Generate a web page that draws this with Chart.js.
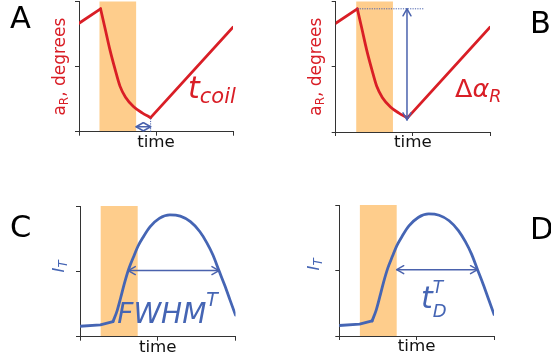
<!DOCTYPE html>
<html>
<head>
<meta charset="utf-8">
<script src="https://cdn.jsdelivr.net/npm/chart.js@4.4.0/dist/chart.umd.min.js"></script>
<style>
  html, body { margin: 0; padding: 0; background: #fff; }
  #wrap { position: relative; width: 551px; height: 362px; }
  #wrap canvas { position: absolute; left: 0; top: 0; }
</style>
</head>
<body>
<div id="wrap">
  <canvas id="panelA" width="551" height="362"></canvas>
  <canvas id="panelB" width="551" height="362"></canvas>
  <canvas id="panelC" width="551" height="362"></canvas>
  <canvas id="panelD" width="551" height="362"></canvas>
</div>
<script>
// rotation angle trace, panels A and B
const timeRot = [0, 0.14, 0.169, 0.201, 0.234, 0.266, 0.302, 0.355, 0.41, 0.465, 1.0];
const alphaR  = [0.833, 0.944, 0.795, 0.628, 0.48, 0.35, 0.265, 0.192, 0.145, 0.108, 0.803];

// transmitted intensity trace, panels C and D
const timeInt = [0, 0.131, 0.212, 0.239, 0.262, 0.286, 0.314, 0.344, 0.372, 0.408, 0.45,
                 0.51, 0.578, 0.645, 0.71, 0.77, 0.815, 0.855, 0.893, 0.93, 0.965, 1.0];
const intensityT = [0.08, 0.09, 0.115, 0.2, 0.3, 0.41, 0.52, 0.61, 0.69, 0.765, 0.84,
                    0.905, 0.932, 0.922, 0.88, 0.805, 0.72, 0.625, 0.508, 0.395, 0.28, 0.165];

// stimulus window (time) and axis range
const stimulus = [0.133, 0.371];
const axisTicks = [0, 0.5, 1];

const W = 551, H = 362;
const RED = '#d91e26', BLUE = '#4565b4', ARROW = '#4a62ad', ORANGE = '#fecd8c', AXIS = '#333';
const font = (size, italic) => (italic ? 'italic ' : '') + size + 'px "DejaVu Sans", sans-serif';

const toPoints = (xs, ys) => xs.map((x, i) => ({ x: x, y: ys[i] }));

// landmarks of the rotation trace
const iPeak = alphaR.indexOf(Math.max(...alphaR));
const iMin = alphaR.indexOf(Math.min(...alphaR));
const tPeak = timeRot[iPeak], alphaPeak = alphaR[iPeak];
const tMin = timeRot[iMin], alphaMin = alphaR[iMin];

// half maximum crossings of the intensity trace
const intMax = Math.max(...intensityT);
const halfLevel = (intMax + intensityT[0]) / 2;
function crossings(xs, ys, level) {
  const out = [];
  for (let i = 1; i < xs.length; i++) {
    const a = ys[i - 1] - level, b = ys[i] - level;
    if (a * b <= 0 && a !== b) out.push(xs[i - 1] + (xs[i] - xs[i - 1]) * a / (a - b));
  }
  return out;
}
const halfCross = crossings(timeInt, intensityT, halfLevel);
// onset: last point of the flat baseline before the rise
const iOnset = 2;

function axisOpts() {
  return {
    type: 'linear', min: axisTicks[0], max: axisTicks[axisTicks.length - 1],
    ticks: { display: false, stepSize: axisTicks[1] - axisTicks[0] },
    grid: { drawOnChartArea: false, drawTicks: true, tickLength: 4, color: AXIS, lineWidth: 1 },
    border: { display: true, color: AXIS, width: 1 },
    afterFit(scale) { if (scale.isHorizontal()) scale.height = 0; else scale.width = 0; }
  };
}

function pix(chart, x, y) {
  return [chart.scales.x.getPixelForValue(x), chart.scales.y.getPixelForValue(y)];
}

function drawRun(ctx, x, y, parts) {
  let cx = x;
  for (const p of parts) {
    ctx.font = p[1];
    ctx.fillText(p[0], cx, y + p[2]);
    if (p[3] !== false) cx += ctx.measureText(p[0]).width;
  }
}

function runWidth(ctx, parts) {
  let w = 0;
  for (const p of parts) { ctx.font = p[1]; if (p[3] !== false) w += ctx.measureText(p[0]).width; }
  return w;
}

function mathText(chart, x, y, color, parts) {
  const ctx = chart.ctx, [px, py] = pix(chart, x, y);
  ctx.save();
  ctx.fillStyle = color; ctx.textBaseline = 'alphabetic'; ctx.textAlign = 'left';
  drawRun(ctx, px, py, parts);
  ctx.restore();
}

function yLabel(chart, dx, dy, color, parts) {
  const ctx = chart.ctx, a = chart.chartArea;
  ctx.save();
  ctx.translate(a.left + dx, (a.top + a.bottom) / 2 + dy);
  ctx.rotate(-Math.PI / 2);
  ctx.fillStyle = color; ctx.textBaseline = 'alphabetic'; ctx.textAlign = 'left';
  drawRun(ctx, -runWidth(ctx, parts) / 2, 0, parts);
  ctx.restore();
}

function timeLabel(chart) {
  const ctx = chart.ctx, a = chart.chartArea;
  ctx.save();
  ctx.fillStyle = '#111'; ctx.font = font(16.7); ctx.textAlign = 'center'; ctx.textBaseline = 'alphabetic';
  ctx.fillText('time', (a.left + a.right) / 2, a.bottom + 15);
  ctx.restore();
}

function panelLetter(chart, letter, x, y) {
  const ctx = chart.ctx;
  ctx.save();
  ctx.fillStyle = '#000'; ctx.font = font(30.5); ctx.textAlign = 'left'; ctx.textBaseline = 'alphabetic';
  ctx.fillText(letter, x, y);
  ctx.restore();
}

function head(ctx, x, y, ang) {
  const L = 7, w = 4, c = Math.cos(ang), s = Math.sin(ang);
  ctx.beginPath();
  ctx.moveTo(x - L * c + w * s, y - L * s - w * c);
  ctx.lineTo(x, y);
  ctx.lineTo(x - L * c - w * s, y - L * s + w * c);
  ctx.stroke();
}

function doubleArrow(chart, x1, y1, x2, y2, trim2) {
  const ctx = chart.ctx;
  const [ax, ay] = pix(chart, x1, y1);
  let [bx, by] = pix(chart, x2, y2);
  by -= (trim2 || 0);
  const ang = Math.atan2(by - ay, bx - ax);
  ctx.save();
  ctx.strokeStyle = ARROW; ctx.lineWidth = 1.5; ctx.lineCap = 'round'; ctx.lineJoin = 'round';
  ctx.beginPath(); ctx.moveTo(ax, ay); ctx.lineTo(bx, by); ctx.stroke();
  head(ctx, bx, by, ang);
  head(ctx, ax, ay, ang + Math.PI);
  ctx.restore();
}

function dotted(chart, x1, y1, x2, y2) {
  const ctx = chart.ctx;
  const [ax, ay] = pix(chart, x1, y1), [bx, by] = pix(chart, x2, y2);
  ctx.save();
  ctx.strokeStyle = ARROW; ctx.lineWidth = 1; ctx.setLineDash([1.2, 1.2]);
  ctx.beginPath(); ctx.moveTo(ax, ay); ctx.lineTo(bx, by); ctx.stroke();
  ctx.restore();
}

function drawBand(chart) {
  const ctx = chart.ctx, a = chart.chartArea;
  const x0 = chart.scales.x.getPixelForValue(stimulus[0]);
  const x1 = chart.scales.x.getPixelForValue(stimulus[1]);
  ctx.save();
  ctx.fillStyle = ORANGE;
  ctx.fillRect(x0, a.top, x1 - x0, a.bottom - a.top);
  ctx.restore();
}

// one trace split into pieces: straight pieces keep their corners, smooth ones are monotone splines
function traceSets(pieces, color) {
  return pieces.map(([pts, smooth]) => ({
    data: pts, borderColor: color, borderWidth: 2.8, pointRadius: 0, fill: false,
    cubicInterpolationMode: smooth ? 'monotone' : 'default', tension: 0,
    borderJoinStyle: 'round', borderCapStyle: 'round'
  }));
}

function makePanel(canvasId, area, datasets, extras) {
  const [l, t, r, b] = area;
  return new Chart(document.getElementById(canvasId), {
    type: 'line',
    data: { datasets: datasets },
    options: {
      responsive: false, animation: false, devicePixelRatio: 1,
      layout: { padding: { left: l, top: t, right: W - r, bottom: H - b } },
      scales: { x: axisOpts(), y: axisOpts() },
      plugins: { legend: { display: false }, tooltip: { enabled: false } },
      events: []
    },
    plugins: [{
      id: 'panelMarks',
      beforeDraw(chart) { drawBand(chart); },
      afterDraw(chart) { extras(chart); }
    }]
  });
}

const rotPoints = toPoints(timeRot, alphaR);
const intPoints = toPoints(timeInt, intensityT);
const rotPieces = [
  [rotPoints.slice(0, iPeak + 1), false],
  [rotPoints.slice(iPeak, iMin + 1), true],
  [rotPoints.slice(iMin), false]
];
const intPieces = [
  [intPoints.slice(0, iOnset + 1), false],
  [intPoints.slice(iOnset), true]
];
const aRLabel = [['a', font(17), 0], ['R', font(12), 3], [', degrees', font(17), 0]];
const iTLabel = [['I', font(16.7, true), 0], ['T', font(11.7, true), 3]];

// A: coil time
makePanel('panelA', [79, 1.5, 233, 131.7], traceSets(rotPieces, RED), chart => {
  dotted(chart, tMin, 0, tMin, alphaMin);
  doubleArrow(chart, stimulus[1], 0.038, tMin, 0.038);
  mathText(chart, 0.708, 0.257, RED, [['t', font(30, true), 0], ['coil', font(21, true), 4.7]]);
  yLabel(chart, -14, 0, RED, aRLabel);
  timeLabel(chart);
  panelLetter(chart, 'A', 10, 28.3);
});

// B: rotation amplitude
makePanel('panelB', [335.7, 1.5, 490, 132], traceSets(rotPieces, RED), chart => {
  dotted(chart, tPeak, alphaPeak, 0.568, alphaPeak);
  doubleArrow(chart, tMin - 0.003, alphaPeak, tMin - 0.003, alphaMin, -2);
  mathText(chart, 0.773, 0.266, RED, [['\u0394', font(25.5), 0], ['\u03b1', font(25.5, true), 0], ['R', font(17.5, true), 4.4]]);
  yLabel(chart, -14.5, 0, RED, aRLabel);
  timeLabel(chart);
  panelLetter(chart, 'B', 530, 33.3);
});

// C: full width at half maximum
makePanel('panelC', [80, 206, 235.5, 336.7], traceSets(intPieces, BLUE), chart => {
  doubleArrow(chart, halfCross[0], halfLevel, halfCross[halfCross.length - 1], halfLevel);
  mathText(chart, 0.24, 0.101, BLUE, [['FWHM', font(28, true), 0], ['T', font(19, true), -17]]);
  yLabel(chart, -16.5, -5, BLUE, iTLabel);
  timeLabel(chart);
  panelLetter(chart, 'C', 10, 237.3);
});

// D: decay time after the stimulus
makePanel('panelD', [339.3, 205, 494, 336], traceSets(intPieces, BLUE), chart => {
  doubleArrow(chart, stimulus[1], halfLevel, halfCross[halfCross.length - 1], halfLevel);
  mathText(chart, 0.528, 0.214, BLUE, [['t', font(30, true), 0], ['D', font(18, true), 8.7, false], ['T', font(17, true), -15]]);
  yLabel(chart, -20.3, -6, BLUE, iTLabel);
  timeLabel(chart);
  panelLetter(chart, 'D', 530, 239.3);
});
</script>
</body>
</html>
